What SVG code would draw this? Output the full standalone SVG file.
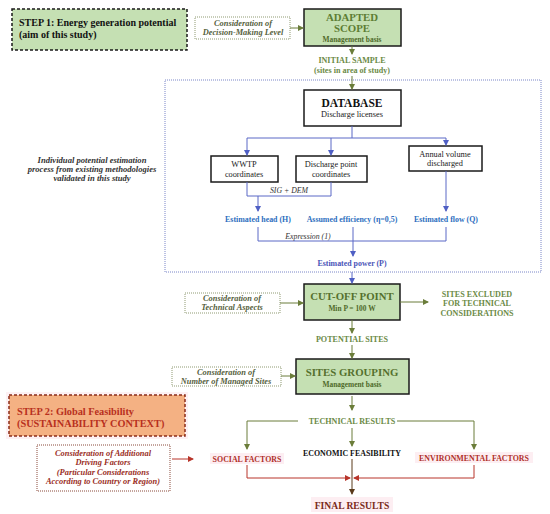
<svg xmlns="http://www.w3.org/2000/svg" width="550" height="514" viewBox="0 0 550 514">
<defs>
<marker id="ag" markerUnits="userSpaceOnUse" markerWidth="6" markerHeight="6" refX="5" refY="3" orient="auto"><path d="M0,0 L6,3 L0,6 z" fill="#6b7d3a"/></marker>
<marker id="ab" markerUnits="userSpaceOnUse" markerWidth="6" markerHeight="6" refX="5" refY="3" orient="auto"><path d="M0,0 L6,3 L0,6 z" fill="#4f5fc4"/></marker>
<marker id="ar" markerUnits="userSpaceOnUse" markerWidth="6" markerHeight="6" refX="5" refY="3" orient="auto"><path d="M0,0 L6,3 L0,6 z" fill="#b8352a"/></marker>
<marker id="ad" markerUnits="userSpaceOnUse" markerWidth="6" markerHeight="6" refX="5" refY="3" orient="auto"><path d="M0,0 L6,3 L0,6 z" fill="#5a3a1a"/></marker>
</defs>
<style>
text{font-family:"Liberation Serif","Times New Roman",serif;text-anchor:middle}
.box{fill:#ffffff;stroke:#1a1a1a;stroke-width:1.5}
.gbox{fill:#c5e0b3;stroke:#1a1a1a;stroke-width:1.5}
.cons{fill:#ffffff;stroke:#8f9a72;stroke-width:1;stroke-dasharray:1,1}
.consr{fill:#ffffff;stroke:#8a4a3a;stroke-width:1;stroke-dasharray:1,1}
.ct{font-size:8.4px;font-style:italic;font-weight:bold;fill:#55603c}
.ctr{font-size:8.4px;font-style:italic;font-weight:bold;fill:#9a2e1e}
.pn{font-size:8.6px;font-style:italic;font-weight:bold;fill:#333333}
.gt{font-size:10.8px;font-weight:bold;fill:#5d7d34}
.gs{font-size:7.4px;font-weight:bold;fill:#4f6a2a}
.gl{font-size:8.1px;font-weight:bold;fill:#6b8a46}
.bt{font-size:7.9px;font-weight:bold;fill:#2e6fc0}
.bk{font-size:8.3px;fill:#1a1a1a}
.it{font-size:7.8px;font-style:italic;fill:#333333}
.lg{fill:none;stroke:#6b7d3a;stroke-width:1}
.lb{fill:none;stroke:#5b68c6;stroke-width:1}
.lr{fill:none;stroke:#b8352a;stroke-width:1}
.ld{fill:none;stroke:#5a3a1a;stroke-width:1}
.rt{font-size:7.9px;font-weight:bold;fill:#b0302a}
.hl{fill:#fdeef2}
</style>
<rect x="0" y="0" width="550" height="514" fill="#ffffff"/>

<g id="step1">
<rect x="12" y="9" width="175" height="41" fill="#c5e0b3" stroke="#1a1a1a" stroke-width="1.5" stroke-dasharray="3,2"/>
<text x="19" y="26" style="text-anchor:start;font-size:10px;font-weight:bold;fill:#111">STEP 1: Energy generation potential</text>
<text x="19" y="38" style="text-anchor:start;font-size:10px;font-weight:bold;fill:#111">(aim of this study)</text>
</g>

<g id="cons-decision">
<rect class="cons" x="195" y="17" width="95" height="22"/>
<text class="ct" x="243" y="26">Consideration of</text>
<text class="ct" x="243" y="35">Decision-Making Level</text>
</g>

<g id="adapted-scope">
<rect class="gbox" x="304" y="9" width="97" height="37"/>
<text class="gt" x="352" y="21">ADAPTED</text>
<text class="gt" x="352" y="32">SCOPE</text>
<text class="gs" x="352" y="42">Management basis</text>
</g>

<g id="initial-sample">
<text class="gl" x="352" y="63">INITIAL SAMPLE</text>
<text class="gl" x="352" y="73">(sites in area of study)</text>
</g>

<g id="frame">
<rect x="165" y="80" width="376" height="192" fill="none" stroke="#7b86c8" stroke-width="1" stroke-dasharray="1,1"/>
</g>

<g id="process-note">
<text class="pn" x="92" y="163">Individual potential estimation</text>
<text class="pn" x="92" y="172">process from existing methodologies</text>
<text class="pn" x="92" y="181">validated in this study</text>
</g>

<g id="database">
<rect class="box" x="304" y="90" width="97" height="36"/>
<text x="352" y="107" style="font-size:11.5px;font-weight:bold;fill:#111">DATABASE</text>
<text class="bk" x="352" y="117">Discharge licenses</text>
</g>

<g id="wwtp">
<rect class="box" x="211" y="156" width="67" height="26"/>
<text class="bk" x="244" y="167">WWTP</text>
<text class="bk" x="244" y="177">coordinates</text>
</g>

<g id="discharge-point">
<rect class="box" x="296" y="156" width="71" height="26"/>
<text class="bk" x="331" y="167">Discharge point</text>
<text class="bk" x="331" y="177">coordinates</text>
</g>

<g id="annual-volume">
<rect class="box" x="409" y="146" width="73" height="25"/>
<text class="bk" x="445" y="157">Annual volume</text>
<text class="bk" x="445" y="166">discharged</text>
</g>

<g id="labels-blue">
<text class="it" x="289" y="193">SIG + DEM</text>
<text class="bt" x="258" y="222">Estimated head (H)</text>
<text class="bt" x="352" y="222">Assumed efficiency (η=0,5)</text>
<text class="bt" x="446" y="222">Estimated flow (Q)</text>
<text class="it" x="308" y="239">Expression (1)</text>
<text class="bt" x="352" y="266" style="fill:#4a55b8">Estimated power (P)</text>
</g>

<g id="cons-technical">
<rect class="cons" x="185" y="293" width="95" height="20"/>
<text class="ct" x="232" y="301">Consideration of</text>
<text class="ct" x="232" y="310">Technical Aspects</text>
</g>

<g id="cut-off">
<rect class="gbox" x="304" y="284" width="96" height="36"/>
<text class="gt" x="352" y="300" style="fill:#55702e">CUT-OFF POINT</text>
<text class="gs" x="352" y="311">Min P = 100 W</text>
</g>

<g id="excluded">
<text class="gl" x="477" y="297">SITES EXCLUDED</text>
<text class="gl" x="477" y="306">FOR TECHNICAL</text>
<text class="gl" x="477" y="316">CONSIDERATIONS</text>
</g>

<g id="potential-sites">
<text class="gl" x="352" y="342">POTENTIAL SITES</text>
</g>

<g id="cons-number">
<rect class="cons" x="172" y="367" width="109" height="19"/>
<text class="ct" x="226" y="375">Consideration of</text>
<text class="ct" x="226" y="384">Number of Managed Sites</text>
</g>

<g id="sites-grouping">
<rect class="gbox" x="296" y="359" width="113" height="35"/>
<text class="gt" x="352" y="376" style="fill:#55702e">SITES GROUPING</text>
<text class="gs" x="352" y="387">Management basis</text>
</g>

<g id="step2">
<rect x="6" y="392" width="182" height="47" fill="#fdf1f4"/>
<rect x="9" y="395" width="176" height="41" fill="#f4b183" stroke="#8b2d1a" stroke-width="1.5" stroke-dasharray="3,2"/>
<text x="17" y="415" style="text-anchor:start;font-size:10.3px;font-weight:bold;fill:#b8301e">STEP 2: Global Feasibility</text>
<text x="17" y="427" style="text-anchor:start;font-size:10.3px;font-weight:bold;fill:#b8301e">(SUSTAINABILITY CONTEXT)</text>
</g>

<g id="cons-additional">
<rect class="consr" x="37" y="445" width="133" height="46"/>
<text class="ctr" x="103" y="456">Consideration of Additional</text>
<text class="ctr" x="103" y="465">Driving Factors</text>
<text class="ctr" x="103" y="475">(Particular Considerations</text>
<text class="ctr" x="103" y="484">According to Country or Region)</text>
</g>

<g id="technical-results">
<text class="gl" x="352" y="424">TECHNICAL RESULTS</text>
</g>

<g id="economic">
<text x="352" y="456" style="font-size:7.9px;font-weight:bold;fill:#111">ECONOMIC FEASIBILITY</text>
</g>

<g id="social">
<rect class="hl" x="210" y="453" width="74" height="11"/>
<text class="rt" x="247" y="462">SOCIAL FACTORS</text>
</g>

<g id="environmental">
<rect class="hl" x="415" y="452" width="118" height="11"/>
<text class="rt" x="474" y="461">ENVIRONMENTAL FACTORS</text>
</g>

<g id="final">
<rect class="hl" x="311" y="497" width="82" height="15"/>
<text x="352" y="509" style="font-size:9.6px;font-weight:bold;fill:#7a2a1a">FINAL RESULTS</text>
</g>

<g id="connectors">
<line class="lg" x1="290" y1="28" x2="303" y2="28" marker-end="url(#ag)"/>
<line class="lg" x1="352" y1="46" x2="352" y2="54" marker-end="url(#ag)"/>
<line class="lg" x1="352" y1="76" x2="352" y2="89" marker-end="url(#ag)"/>

<polyline class="lb" points="352,126 352,138"/>
<line class="lb" x1="247" y1="138" x2="446" y2="138"/>
<line class="lb" x1="247" y1="138" x2="247" y2="155" marker-end="url(#ab)"/>
<line class="lb" x1="331" y1="138" x2="331" y2="155" marker-end="url(#ab)"/>
<line class="lb" x1="446" y1="138" x2="446" y2="145" marker-end="url(#ab)"/>
<polyline class="lb" points="247,182 247,196 331,196 331,182"/>
<line class="lb" x1="258" y1="196" x2="258" y2="211" marker-end="url(#ab)"/>
<line class="lb" x1="446" y1="171" x2="446" y2="211" marker-end="url(#ab)"/>
<polyline class="lb" points="258,227 258,241 446,241 446,227"/>
<line class="lb" x1="353" y1="227" x2="353" y2="256" marker-end="url(#ab)"/>
<line class="lb" x1="352" y1="272" x2="352" y2="283" marker-end="url(#ab)"/>

<line class="lg" x1="280" y1="303" x2="303" y2="303" marker-end="url(#ag)"/>
<line class="lg" x1="400" y1="302" x2="428" y2="302" marker-end="url(#ag)"/>
<line class="lg" x1="352" y1="320" x2="352" y2="333" marker-end="url(#ag)"/>
<line class="lg" x1="352" y1="345" x2="352" y2="358" marker-end="url(#ag)"/>
<line class="lg" x1="281" y1="376" x2="295" y2="376" marker-end="url(#ag)"/>
<line class="lg" x1="352" y1="396" x2="352" y2="410" marker-end="url(#ag)"/>
<polyline class="lg" points="298,421 247,421 247,449" marker-end="url(#ag)"/>
<polyline class="lg" points="397,421 474,421 474,449" marker-end="url(#ag)"/>
<line class="lg" x1="352" y1="428" x2="352" y2="446" marker-end="url(#ag)"/>

<line class="lr" x1="172" y1="459" x2="193" y2="459" marker-end="url(#ar)"/>
<polyline class="lr" points="247,465 247,478 350,478" marker-end="url(#ar)"/>
<polyline class="lr" points="474,465 474,478 354,478" marker-end="url(#ar)"/>
<line class="ld" x1="352" y1="459" x2="352" y2="494" marker-end="url(#ad)"/>
</g>
</svg>
